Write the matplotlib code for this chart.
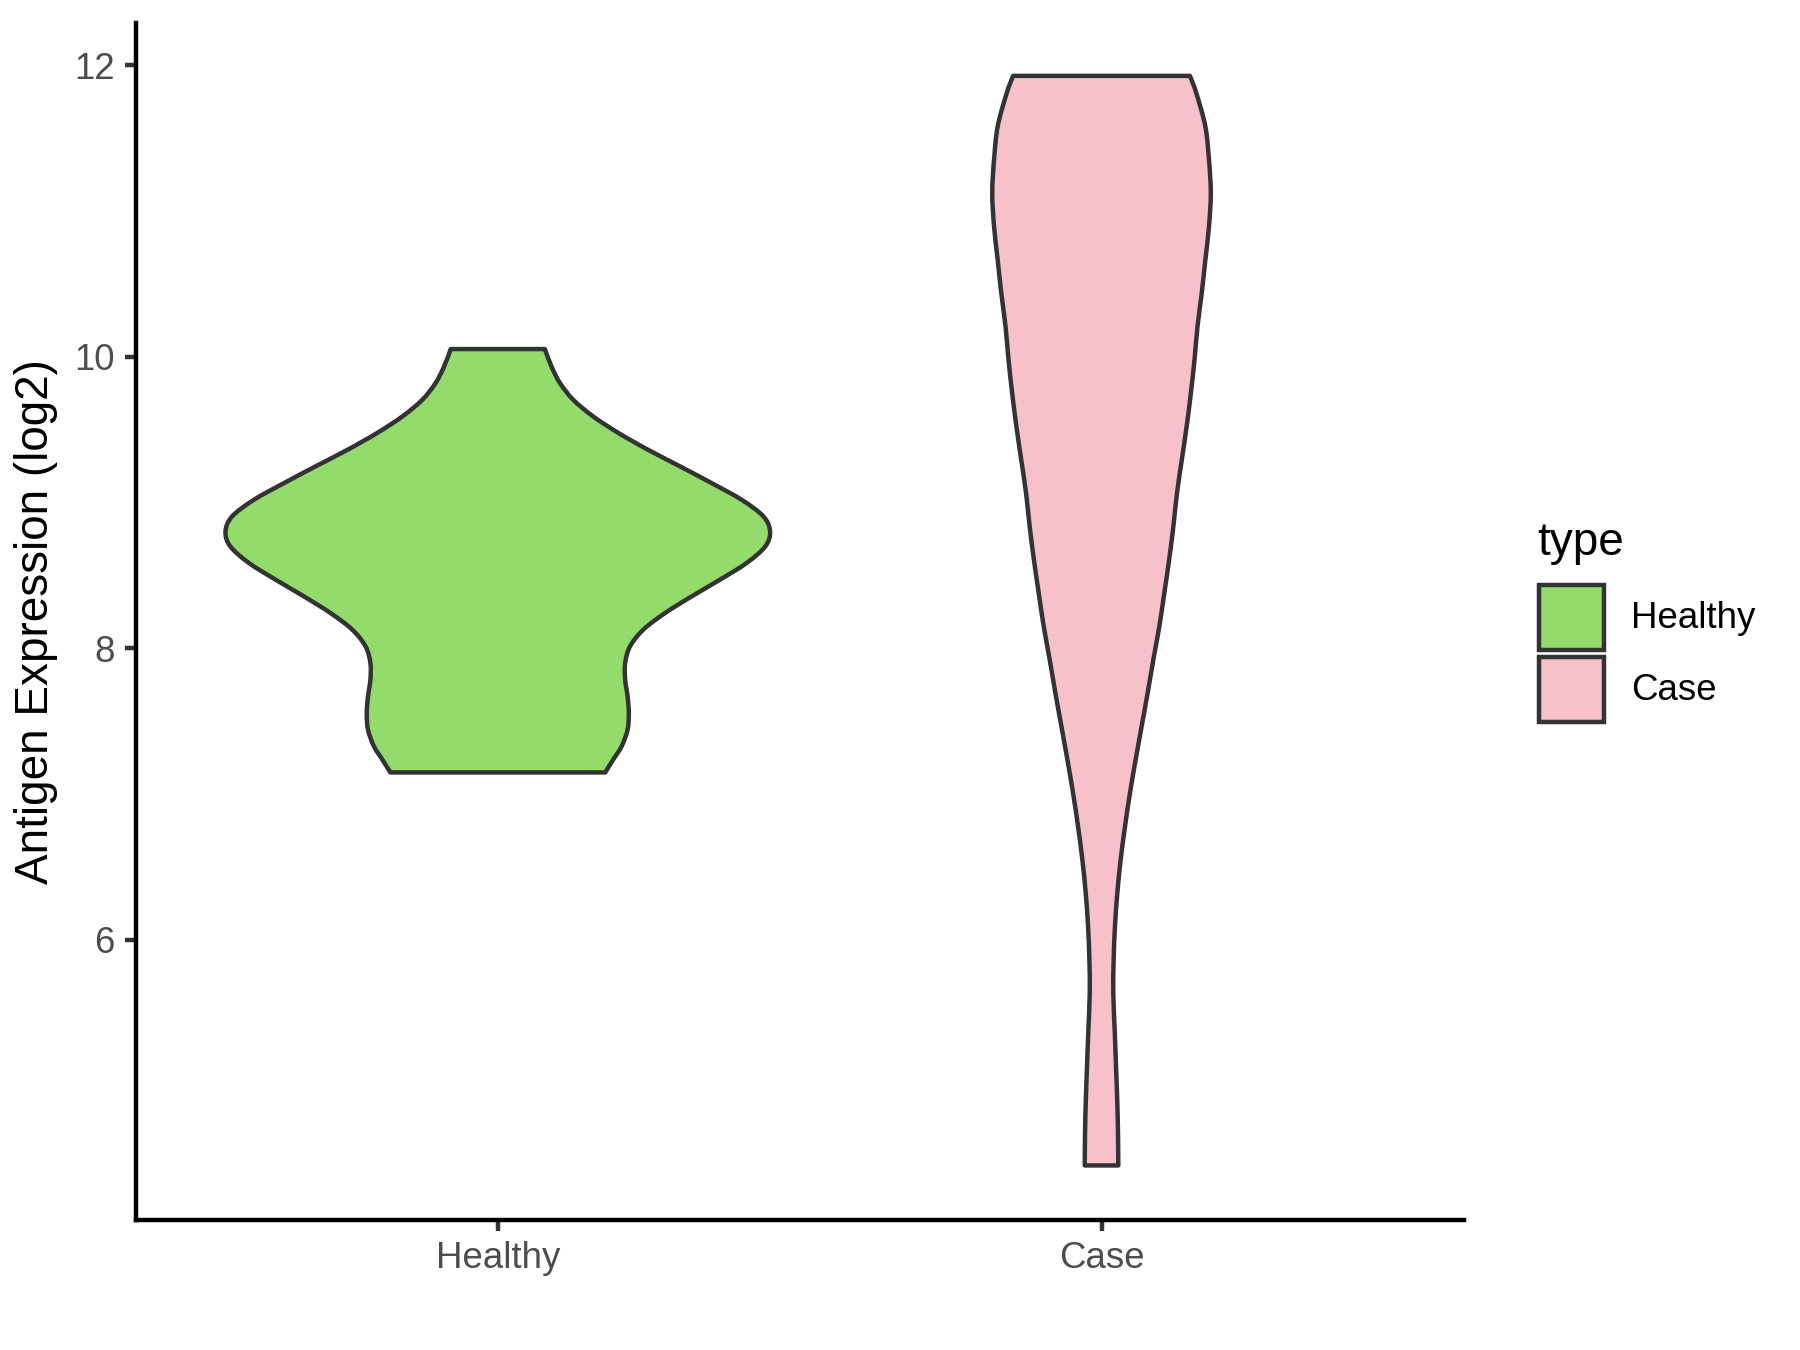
import numpy as np
import matplotlib
matplotlib.use("Agg")
import matplotlib.pyplot as plt
from matplotlib.patches import Rectangle, PathPatch
from matplotlib.path import Path

plt.rcParams['font.family'] = ['Liberation Sans', 'DejaVu Sans']

# groups and fill colours
groups = ['Healthy', 'Case']
fills = ['#93DC6B', '#F7C0CB']

# violin outlines: expression value (log2) and half width (x units)
healthy_y = [7.149, 7.236, 7.327, 7.442, 7.556, 7.670, 7.785, 7.899, 8.013, 8.128,
             8.242, 8.356, 8.471, 8.585, 8.699, 8.802, 8.905, 9.019, 9.134, 9.248,
             9.362, 9.477, 9.591, 9.705, 9.820, 9.933, 10.053]
healthy_hw = [0.178, 0.191, 0.205, 0.215, 0.217, 0.215, 0.211, 0.211, 0.219, 0.241,
              0.277, 0.321, 0.368, 0.412, 0.443, 0.451, 0.440, 0.404, 0.354, 0.302,
              0.249, 0.200, 0.158, 0.125, 0.103, 0.089, 0.078]

case_y = [4.453, 4.675, 4.904, 5.132, 5.363, 5.636, 5.864, 6.093, 6.322, 6.550,
          6.778, 7.007, 7.236, 7.464, 7.693, 7.922, 8.150, 8.379, 8.608, 8.836,
          9.065, 9.294, 9.522, 9.751, 9.979, 10.208, 10.437, 10.665, 10.894, 11.123,
          11.351, 11.580, 11.809, 11.927]
case_hw = [0.0278, 0.0273, 0.026, 0.024, 0.022, 0.0195, 0.0201, 0.0223, 0.0262, 0.0317,
           0.0389, 0.0471, 0.0565, 0.0664, 0.0764, 0.0858, 0.0957, 0.104, 0.112, 0.119,
           0.125, 0.133, 0.141, 0.148, 0.154, 0.159, 0.166, 0.172, 0.178, 0.181,
           0.178, 0.172, 0.157, 0.1465]

outlines = [(healthy_y, healthy_hw), (case_y, case_hw)]
yticks = [6, 8, 10, 12]

W, H = 1800, 1350


def smooth_side(pts):
    # catmull-rom through the outline points, as cubic bezier segments
    verts, codes = [], []
    n = len(pts)
    for i in range(n - 1):
        p0 = pts[max(i - 1, 0)]
        p1 = pts[i]
        p2 = pts[i + 1]
        p3 = pts[min(i + 2, n - 1)]
        c1 = p1 + (p2 - p0) / 6.0
        c2 = p2 - (p3 - p1) / 6.0
        verts += [c1, c2, p2]
        codes += [Path.CURVE4] * 3
    return verts, codes


def violin_path(pos, ys, hws):
    ys = np.array(ys)
    hws = np.array(hws)
    right = np.column_stack([pos + hws, ys])
    left = np.column_stack([pos - hws, ys])[::-1]
    verts = [right[0]]
    codes = [Path.MOVETO]
    v, c = smooth_side(right)
    verts += v
    codes += c
    verts.append(left[0])
    codes.append(Path.LINETO)
    v, c = smooth_side(left)
    verts += v
    codes += c
    verts.append(right[0])
    codes.append(Path.CLOSEPOLY)
    return Path(np.array(verts), codes)


fig = plt.figure(figsize=(6, 4.5), dpi=300)
ax = fig.add_axes([0.0753, 0.0961, 0.8132 - 0.0753, 0.983 - 0.0961])

lw = 1.07
edge = '#333333'
for i, (ys, hws) in enumerate(outlines):
    p = violin_path(i + 1, ys, hws)
    ax.add_patch(PathPatch(p, facecolor=fills[i], edgecolor=edge, linewidth=lw,
                           joinstyle='round'))

ax.set_xlim(0.4, 2.6)
ax.set_ylim(4.077, 12.29)
ax.set_xticks([1, 2])
ax.set_xticklabels(groups)
ax.set_yticks(yticks)
ax.set_yticklabels([str(t) for t in yticks])

for s in ['top', 'right']:
    ax.spines[s].set_visible(False)
for s in ['left', 'bottom']:
    ax.spines[s].set_linewidth(lw)
    ax.spines[s].set_color('black')
ax.tick_params(axis='both', length=2.75, width=lw, color=edge,
               labelcolor='#4D4D4D', labelsize=8.8, pad=2.2)
ax.set_ylabel('Antigen Expression (log2)', fontsize=11, color='black', labelpad=4)

# legend drawn in figure pixels
def fx(px):
    return px / W

def fy(py):
    return 1 - py / H

fig.text(fx(1537), fy(543), 'type', fontsize=11, color='black', ha='left', va='center')
key_tops = [585, 657]
label_y = [618, 690]
for i, g in enumerate(groups):
    r = Rectangle((fx(1539), fy(key_tops[i] + 65)), fx(65), 65 / H,
                  transform=fig.transFigure, facecolor=fills[i], edgecolor=edge,
                  linewidth=lw)
    fig.add_artist(r)
    fig.text(fx(1631), fy(label_y[i]), g, fontsize=8.8, color='black',
             ha='left', va='center')

fig.savefig('out.png', dpi=300)
